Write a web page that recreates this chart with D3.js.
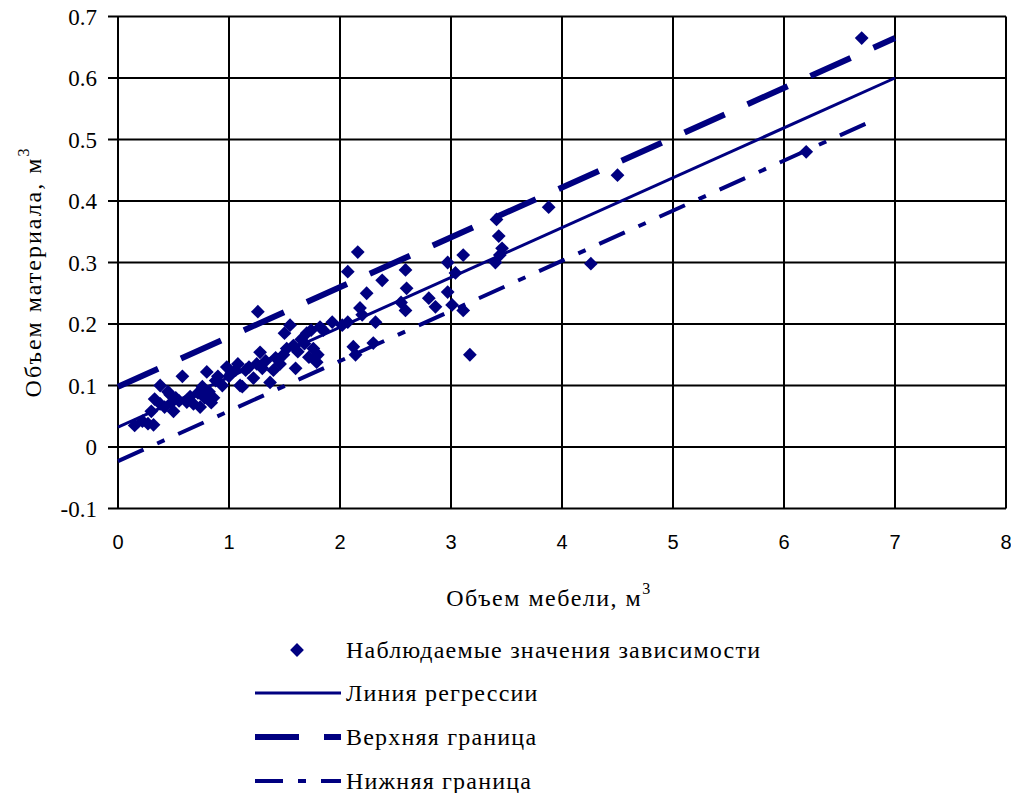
<!DOCTYPE html>
<html>
<head>
<meta charset="utf-8">
<script src="https://cdn.jsdelivr.net/npm/d3@7"></script>
<style>
  html, body { margin: 0; padding: 0; background: #fff; }
  svg { display: block; }
</style>
</head>
<body>
<svg id="chart" width="1011" height="793"></svg>
<script>
// Observed pairs: furniture volume (m3) -> material volume (m3)
const furnitureVolume = [
  0.15, 0.22, 0.27, 0.32, 0.30, 0.33, 0.38, 0.38, 0.42, 0.45,
  0.47, 0.48, 0.50, 0.52, 0.55, 0.58, 0.62, 0.65, 0.68, 0.72,
  0.74, 0.76, 0.78, 0.80, 0.82, 0.84, 0.86, 0.88, 0.90, 0.94,
  0.98, 1.00, 1.02, 1.06, 1.08, 1.10, 1.12, 1.15, 1.18, 1.22,
  1.25, 1.26, 1.28, 1.30, 1.33, 1.37, 1.40, 1.42, 1.46, 1.49,
  1.52, 1.55, 1.50, 1.58, 1.60, 1.62, 1.65, 1.68, 1.70, 1.72,
  1.74, 1.76, 1.79, 1.80, 1.82, 1.85, 1.93, 2.02, 2.07, 2.07,
  2.12, 2.14, 2.16, 2.18, 2.20, 2.24, 2.30, 2.32, 2.38, 2.55,
  2.59, 2.60, 2.59, 2.80, 2.86, 2.97, 2.97, 3.01, 3.04, 3.11,
  3.11, 3.17, 3.40, 3.41, 3.43, 3.46, 3.44, 3.88, 4.26, 4.50,
  6.20, 6.70
];
const materialVolume = [
  0.035, 0.042, 0.038, 0.036, 0.058, 0.078, 0.070, 0.100, 0.065, 0.090,
  0.085, 0.072, 0.058, 0.080, 0.075, 0.115, 0.073, 0.082, 0.070, 0.088,
  0.065, 0.098, 0.080, 0.122, 0.090, 0.072, 0.080, 0.108, 0.115, 0.100,
  0.130, 0.115, 0.120, 0.125, 0.135, 0.100, 0.098, 0.125, 0.130, 0.112,
  0.135, 0.220, 0.154, 0.128, 0.140, 0.105, 0.125, 0.145, 0.135, 0.150,
  0.160, 0.198, 0.185, 0.165, 0.128, 0.155, 0.175, 0.168, 0.185, 0.146,
  0.190, 0.160, 0.138, 0.150, 0.195, 0.190, 0.203, 0.198, 0.203, 0.285,
  0.163, 0.150, 0.317, 0.226, 0.215, 0.250, 0.169, 0.203, 0.271, 0.235,
  0.288, 0.258, 0.222, 0.242, 0.228, 0.300, 0.252, 0.231, 0.283, 0.312,
  0.222, 0.150, 0.300, 0.370, 0.343, 0.323, 0.312, 0.390, 0.298, 0.442,
  0.480, 0.665
];

// Regression line and its upper / lower bounds (end points)
const regressionX = [0, 7];
const regressionY = [0.0325, 0.600];
const upperX = [0, 7];
const upperY = [0.098, 0.665];
const lowerX = [0, 6.85];
const lowerY = [-0.023, 0.535];

// Axis ticks
const xTicks = [0, 1, 2, 3, 4, 5, 6, 7, 8];
const xTickLabels = ["0", "1", "2", "3", "4", "5", "6", "7", "8"];
const yTicks = [-0.1, 0, 0.1, 0.2, 0.3, 0.4, 0.5, 0.6, 0.7];
const yTickLabels = ["-0.1", "0", "0.1", "0.2", "0.3", "0.4", "0.5", "0.6", "0.7"];

// Legend entries
const legendLabels = [
  "Наблюдаемые значения зависимости",
  "Линия регрессии",
  "Верхняя граница",
  "Нижняя граница"
];

const NAVY = "#000080";
const SERIF = "Liberation Serif";
const SANS = "Liberation Sans";

const svg = d3.select("#chart");
const plot = { left: 118, right: 1006, top: 16.5, bottom: 508.5 };

const x = d3.scaleLinear().domain([0, 8]).range([plot.left, plot.right]);
const y = d3.scaleLinear().domain([-0.1, 0.7]).range([plot.bottom, plot.top]);

// Grid
const grid = svg.append("g");
grid.selectAll("line.h").data(yTicks).enter().append("line")
  .attr("x1", plot.left - 10).attr("x2", plot.right)
  .attr("y1", d => y(d)).attr("y2", d => y(d))
  .attr("stroke", "#000").attr("stroke-width", 2);
grid.selectAll("line.v").data(xTicks).enter().append("line")
  .attr("x1", d => x(d)).attr("x2", d => x(d))
  .attr("y1", plot.top).attr("y2", plot.bottom)
  .attr("stroke", "#000").attr("stroke-width", 2);

// Y tick labels
svg.append("g").selectAll("text").data(yTicks).enter().append("text")
  .attr("x", 97).attr("y", d => y(d))
  .attr("dy", "0.35em")
  .attr("text-anchor", "end")
  .style("font-family", SERIF).attr("font-size", 23)
  .text((d, i) => yTickLabels[i]);

// X tick labels
svg.append("g").selectAll("text").data(xTicks).enter().append("text")
  .attr("x", d => x(d)).attr("y", plot.bottom + 40)
  .attr("text-anchor", "middle")
  .style("font-family", SANS).attr("font-size", 20)
  .text((d, i) => xTickLabels[i]);

// Axis titles
const xTitle = svg.append("text")
  .attr("x", 549).attr("y", 606)
  .attr("text-anchor", "middle")
  .style("font-family", SERIF).attr("font-size", 24)
  .attr("letter-spacing", 1.5);
xTitle.append("tspan").text("Объем мебели, м");
xTitle.append("tspan").attr("dy", -12).attr("font-size", 16).text("3");

const yTitle = svg.append("text")
  .attr("transform", "translate(41,272) rotate(-90)")
  .attr("text-anchor", "middle")
  .style("font-family", SERIF).attr("font-size", 24)
  .attr("letter-spacing", 2);
yTitle.append("tspan").text("Объем материала, м");
yTitle.append("tspan").attr("dy", -12).attr("font-size", 16).text("3");

// Lines
const line = d3.line().x(d => x(d[0])).y(d => y(d[1]));
const zip = (xs, ys) => xs.map((v, i) => [v, ys[i]]);

const lineStyles = [
  { width: 3, dash: null },
  { width: 6, dash: "44,25" },
  { width: 4, dash: "28,15,8,15" }
];

const lines = svg.append("g");
lines.append("path").datum(zip(regressionX, regressionY))
  .attr("d", line).attr("fill", "none").attr("stroke", NAVY)
  .attr("stroke-width", lineStyles[0].width);
lines.append("path").datum(zip(upperX, upperY))
  .attr("d", line).attr("fill", "none").attr("stroke", NAVY)
  .attr("stroke-width", lineStyles[1].width)
  .attr("stroke-dasharray", lineStyles[1].dash);
lines.append("path").datum(zip(lowerX, lowerY))
  .attr("d", line).attr("fill", "none").attr("stroke", NAVY)
  .attr("stroke-width", lineStyles[2].width)
  .attr("stroke-dasharray", lineStyles[2].dash);

// Observed points as diamonds
const diamond = d3.symbol().type(d3.symbolSquare).size(95);
svg.append("g").selectAll("path").data(zip(furnitureVolume, materialVolume)).enter()
  .append("path")
  .attr("d", diamond)
  .attr("transform", d => `translate(${x(d[0])},${y(d[1])}) rotate(45)`)
  .attr("fill", NAVY);

// Legend
const legend = svg.append("g");
const legendRows = [650, 693, 737, 781];
const legendLineX = [255, 341];
const legendTextX = 346;

legend.append("path")
  .attr("d", diamond)
  .attr("transform", `translate(297,${legendRows[0]}) rotate(45)`)
  .attr("fill", NAVY);

[1, 2, 3].forEach(i => {
  const st = lineStyles[i - 1];
  legend.append("line")
    .attr("x1", legendLineX[0]).attr("x2", legendLineX[1])
    .attr("y1", legendRows[i]).attr("y2", legendRows[i])
    .attr("stroke", NAVY).attr("stroke-width", st.width)
    .attr("stroke-dasharray", st.dash);
});

legend.selectAll("text").data(legendLabels).enter().append("text")
  .attr("x", legendTextX).attr("y", (d, i) => legendRows[i])
  .attr("dy", "0.35em")
  .style("font-family", SERIF).attr("font-size", 24)
  .attr("letter-spacing", 1.2)
  .text(d => d);
</script>
</body>
</html>
